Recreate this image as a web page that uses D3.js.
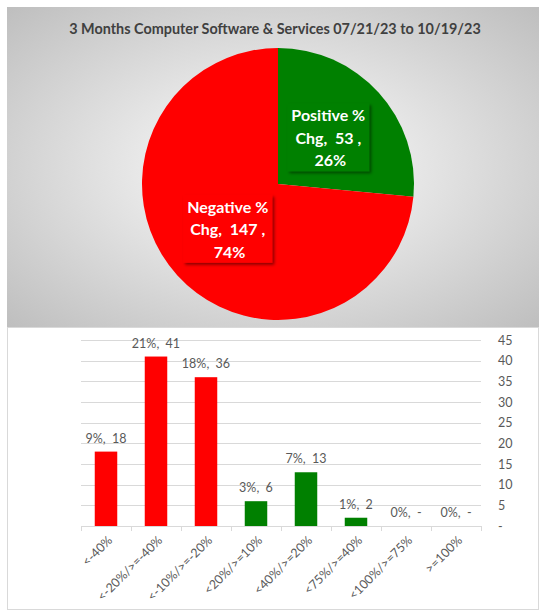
<!DOCTYPE html>
<html>
<head>
<meta charset="utf-8">
<script src="https://cdn.jsdelivr.net/npm/d3@7"></script>
<style>
	body { margin: 0; background: #fff; }
	svg text { font-family: Lato, "Liberation Sans", sans-serif; }
</style>
</head>
<body>
<div id="chart"></div>
<script>
// pie data
var pieNames = ["Positive % Chg", "Negative % Chg"];
var pieValues = [53, 147];
var piePct = ["26%", "74%"];
var pieColors = ["#008000", "#ff0000"];

// bar data
var barCats = ["<-40%", "<-20%/>=-40%", "<-10%/>=-20%", "<20%/>=10%", "<40%/>=20%", "<75%/>=40%", "<100%/>=75%", ">=100%"];
var barValues = [18, 41, 36, 6, 13, 2, 0, 0];
var barPct = ["9%", "21%", "18%", "3%", "7%", "1%", "0%", "0%"];
var barColors = ["#ff0000", "#ff0000", "#ff0000", "#008000", "#008000", "#008000", "#008000", "#008000"];
var yTicks = [0, 5, 10, 15, 20, 25, 30, 35, 40, 45];

var title = "3 Months Computer Software & Services 07/21/23 to 10/19/23";

var W = 539, H = 610;
var svg = d3.select("#chart").append("svg")
	.attr("width", W)
	.attr("height", H);

var defs = svg.append("defs");
var grad = defs.append("radialGradient")
	.attr("id", "bg")
	.attr("cx", "50%").attr("cy", "50%").attr("r", "72%");
grad.append("stop").attr("offset", "0%").attr("stop-color", "#ffffff");
grad.append("stop").attr("offset", "100%").attr("stop-color", "#bdbdbd");

var shadow = defs.append("filter")
	.attr("id", "shadow")
	.attr("x", "-20%").attr("y", "-20%")
	.attr("width", "150%").attr("height", "150%");
shadow.append("feDropShadow")
	.attr("dx", 2).attr("dy", 2)
	.attr("stdDeviation", 1.5)
	.attr("flood-color", "#000")
	.attr("flood-opacity", 0.45);

// ---- top panel: pie ----
svg.append("rect")
	.attr("x", 7).attr("y", 7)
	.attr("width", W - 7).attr("height", 320)
	.attr("fill", "url(#bg)");

svg.append("text")
	.attr("x", 275).attr("y", 34)
	.attr("text-anchor", "middle")
	.attr("font-size", 14.4)
	.attr("font-weight", "bold")
	.attr("fill", "#404040")
	.text(title);

var cx = 278, cy = 184, radius = 136;

var pie = d3.pie().sort(null);
var arcs = pie(pieValues);
var arc = d3.arc().innerRadius(0).outerRadius(radius);
var labelArc = d3.arc().innerRadius(radius * 0.5).outerRadius(radius * 0.5);

var pg = svg.append("g").attr("transform", "translate(" + cx + "," + cy + ")");

pg.selectAll(".slice")
	.data(arcs)
	.enter().append("path")
	.attr("class", "slice")
	.attr("d", arc)
	.attr("fill", (d, i) => pieColors[i]);

var labels = pg.selectAll(".plabel")
	.data(arcs)
	.enter().append("g")
	.attr("class", "plabel")
	.attr("transform", (d) => "translate(" + labelArc.centroid(d) + ")");

labels.each(function(d, i) {
	var g = d3.select(this);
	var parts = pieNames[i].split(" % ");
	var lines = [parts[0] + " %", parts[1] + ",\u00a0\u00a0" + d.data + "\u00a0,", "\u00a0" + piePct[i]];
	var box = g.append("rect").attr("fill", pieColors[i]).attr("filter", "url(#shadow)");
	var t = g.append("text")
		.attr("text-anchor", "middle")
		.attr("font-size", 16)
		.attr("font-weight", "bold")
		.attr("fill", "#fff");
	lines.forEach((l, k) => {
		t.append("tspan")
			.attr("x", 0)
			.attr("y", (k - 1) * 22.5 + 5.5)
			.text(l);
	});
	var bb = t.node().getBBox();
	box.attr("x", bb.x - 4).attr("y", bb.y - 2)
		.attr("width", bb.width + 8).attr("height", bb.height + 4);
});

// ---- bottom panel: bars ----
svg.append("rect")
	.attr("x", 7.5).attr("y", 327.5)
	.attr("width", W - 8).attr("height", H - 328)
	.attr("fill", "#fff")
	.attr("stroke", "#d9d9d9");

var x = d3.scaleBand()
	.domain(barCats)
	.range([81, 481])
	.paddingInner(0.55)
	.paddingOuter(0.275);

var y = d3.scaleLinear()
	.domain([0, 45])
	.range([526, 340]);

var bg = svg.append("g");

bg.selectAll(".grid")
	.data(yTicks.slice(1))
	.enter().append("line")
	.attr("class", "grid")
	.attr("x1", 81).attr("x2", 481)
	.attr("y1", (d) => Math.round(y(d)) + 0.5)
	.attr("y2", (d) => Math.round(y(d)) + 0.5)
	.attr("stroke", "#d9d9d9");

var yAxis = d3.axisRight(y)
	.tickValues(yTicks)
	.tickSize(0)
	.tickPadding(0)
	.tickFormat((d) => d === 0 ? "-" : d);

var ya = bg.append("g")
	.attr("transform", "translate(498,0)")
	.call(yAxis);
ya.select(".domain").remove();
ya.selectAll("text")
	.attr("font-size", 12.5)
	.attr("fill", "#595959")
	.attr("font-family", "Lato, sans-serif");

bg.selectAll(".bar")
	.data(barValues)
	.enter().append("rect")
	.attr("class", "bar")
	.attr("x", (d, i) => x(barCats[i]))
	.attr("width", x.bandwidth())
	.attr("y", (d) => y(d))
	.attr("height", (d) => y(0) - y(d))
	.attr("fill", (d, i) => barColors[i]);

bg.selectAll(".blabel")
	.data(barValues)
	.enter().append("text")
	.attr("class", "blabel")
	.attr("x", (d, i) => x(barCats[i]) + x.bandwidth() / 2)
	.attr("y", (d) => y(d) - 9)
	.attr("text-anchor", "middle")
	.attr("font-size", 12.5)
	.attr("fill", "#595959")
	.text((d, i) => barPct[i] + ",\u00a0\u00a0" + (d === 0 ? "-" : d));

var xAxis = d3.axisBottom(x).tickSize(0).tickPadding(0);
var xa = bg.append("g")
	.attr("transform", "translate(0," + y(0) + ")")
	.call(xAxis);
xa.select(".domain").attr("stroke", "#d9d9d9").attr("d", "M81,0.5H481");
xa.selectAll(".tick text")
	.attr("font-size", 12.5)
	.attr("fill", "#595959")
	.attr("font-family", "Lato, sans-serif")
	.attr("text-anchor", "end")
	.attr("dy", "0.35em")
	.attr("transform", "translate(4,12) rotate(-45)");

// little tick marks between categories
var step = x.step();
bg.selectAll(".sep")
	.data(d3.range(barCats.length + 1))
	.enter().append("line")
	.attr("class", "sep")
	.attr("x1", (i) => 81 + i * step + 0.5)
	.attr("x2", (i) => 81 + i * step + 0.5)
	.attr("y1", y(0))
	.attr("y2", y(0) + 5)
	.attr("stroke", "#d9d9d9");
</script>
</body>
</html>
